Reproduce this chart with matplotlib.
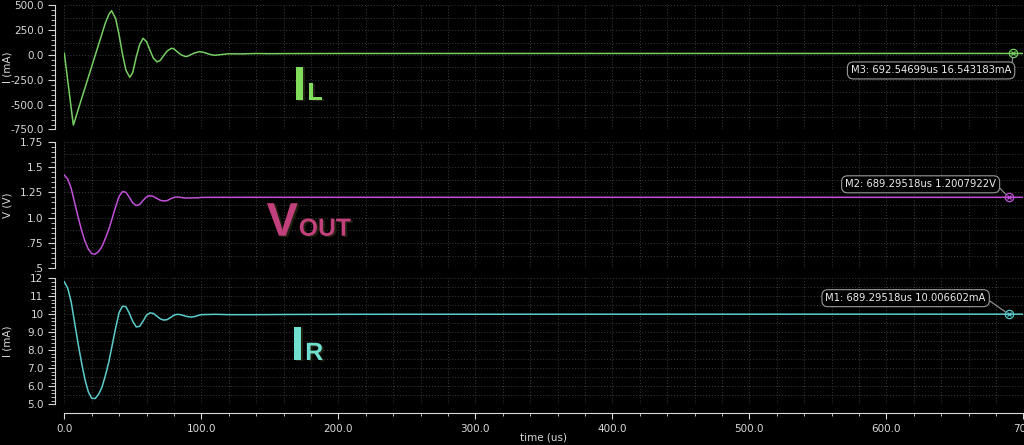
import matplotlib
matplotlib.use('Agg')
import numpy as np
import matplotlib.pyplot as plt
import matplotlib.patheffects as pe
from matplotlib.ticker import MultipleLocator

# inductor current I(L) in mA
t_il = [0, 2, 4, 6, 6.6, 7.5, 10, 12.5, 15, 17.5, 20, 22.5, 25, 27.5, 30, 32.5,
        34.5, 37.5, 40, 42.5, 45, 47.8, 50, 52.5, 55, 57.5, 60, 62.5, 65, 67.7,
        70, 72.5, 75, 78.2, 80, 82.5, 85, 88.3, 90, 92.5, 95, 98.8, 102.5, 105,
        107.5, 110, 115, 120, 130, 140, 150, 160, 200, 300, 400, 500, 600, 700]
il = [18, -200, -420, -640, -705, -668, -555, -445, -335, -225, -115, -5, 105,
      215, 325, 408, 448, 367, 203, 8, -153, -224, -174, -20, 106, 169, 136, 50,
      -31, -69, -54, -5, 40, 69, 63, 32, 5, -15, -12, 5, 21, 34, 25, 12, 3, -2,
      6, 13, 12, 16, 14, 15, 16, 16.5, 16.5, 16.5, 16.5, 16.5]

# output voltage and load current share the same time points
t_v = [0, 2.5, 5, 7.5, 10, 12.5, 15, 17.5, 20, 22.5, 25, 27.5, 30, 32.5, 35,
       37.5, 40, 42.5, 45, 47.5, 50, 52.5, 55, 57.5, 60, 62.5, 65, 67.5, 70,
       72.5, 75, 77.5, 80, 82.5, 85, 87.5, 90, 92.5, 95, 97.5, 100,
       110, 120, 140, 160, 200, 300, 400, 500, 600, 700]
vout = [1.421, 1.38, 1.29, 1.15, 1.01, 0.88, 0.77, 0.69, 0.645, 0.640, 0.665,
        0.715, 0.795, 0.885, 0.995, 1.11, 1.21, 1.258, 1.25, 1.20, 1.145, 1.12,
        1.13, 1.17, 1.205, 1.217, 1.21, 1.19, 1.172, 1.165, 1.168, 1.185, 1.20,
        1.204, 1.20, 1.195, 1.194, 1.195, 1.196, 1.196, 1.200,
        1.2005, 1.2007, 1.2008, 1.2008, 1.2008, 1.2008, 1.2008, 1.2008, 1.2008, 1.2008]
ir = [11.81, 11.45, 10.7, 9.55, 8.4, 7.35, 6.4, 5.7, 5.33, 5.32, 5.55, 5.95,
      6.6, 7.35, 8.3, 9.25, 10.1, 10.45, 10.42, 10.05, 9.6, 9.3, 9.33, 9.62,
      9.95, 10.08, 10.05, 9.9, 9.75, 9.68, 9.7, 9.82, 9.95, 10.0, 9.98, 9.92,
      9.87, 9.85, 9.87, 9.93, 9.98,
      10.0, 9.98, 9.98, 9.99, 10.0, 10.003, 10.005, 10.006, 10.0066, 10.0066]

markers = [("M3: 692.54699us 16.543183mA", 692.54699, 16.543183),
           ("M2: 689.29518us 1.2007922V", 689.29518, 1.2007922),
           ("M1: 689.29518us 10.006602mA", 689.29518, 10.006602)]

ticks_il = [500, 250, 0, -250, -500, -750]
labels_il = ["500.0", "250.0", "0.0", "-250.0", "-500.0", "-750.0"]
ticks_v = [1.75, 1.5, 1.25, 1.0, 0.75, 0.5]
labels_v = ["1.75", "1.5", "1.25", "1.0", ".75", ".5"]
ticks_ir = [12, 11, 10, 9, 8, 7, 6, 5]
labels_ir = ["12", "11", "10", "9.0", "8.0", "7.0", "6.0", "5.0"]
xticks = [0, 100, 200, 300, 400, 500, 600, 700]
xlabels = ["0.0", "100.0", "200.0", "300.0", "400.0", "500.0", "600.0", "700"]

fg = '#d8d8d8'
grid_kw = dict(color='#3c3c3c', linestyle=(0, (1, 2)), linewidth=0.7)

fig = plt.figure(figsize=(10.24, 4.45), dpi=100, facecolor='black')
left, width = 64.3 / 1024, 959 / 1024
ax1 = fig.add_axes([left, 0.7090, width, 0.2787])
ax2 = fig.add_axes([left, 0.3971, width, 0.2845])
ax3 = fig.add_axes([left, 0.0915, width, 0.2831])


def style(ax, ticks, labels, step, ylabel, bottom=False):
    ax.set_facecolor('black')
    ax.set_xlim(0, 700)
    ax.set_ylim(min(ticks), max(ticks))
    for s in ['top', 'right']:
        ax.spines[s].set_visible(False)
    ax.spines['left'].set_position(('outward', 7))
    ax.spines['left'].set_color(fg)
    ax.set_yticks(ticks)
    ax.set_yticklabels(labels)
    ax.yaxis.set_minor_locator(MultipleLocator(step / 5))
    ax.xaxis.set_major_locator(MultipleLocator(100))
    ax.xaxis.set_minor_locator(MultipleLocator(20))
    ax.grid(which='both', axis='x', **grid_kw)
    for y in np.arange(min(ticks), max(ticks) + step / 4, step / 2):
        ax.axhline(y, zorder=0, **grid_kw)
    ax.tick_params(axis='y', which='major', colors=fg, labelsize=7.5, length=5, width=0.8, pad=3)
    ax.tick_params(axis='y', which='minor', colors=fg, length=3, width=0.6)
    ax.set_ylabel(ylabel, color=fg, fontsize=7.5)
    ax.yaxis.set_label_coords(-0.0535, 0.5)
    if bottom:
        ax.spines['bottom'].set_position(('outward', 6))
        ax.spines['bottom'].set_color(fg)
        ax.set_xticks(xticks)
        ax.set_xticklabels(xlabels)
        ax.tick_params(axis='x', which='major', colors=fg, labelsize=7.5, length=4, width=0.8, pad=4)
        ax.tick_params(axis='x', which='minor', colors=fg, length=2.5, width=0.6)
        ax.set_xlabel("time (us)", color=fg, fontsize=7.5, labelpad=-1)
    else:
        ax.spines['bottom'].set_visible(False)
        ax.tick_params(axis='x', which='both', bottom=False, labelbottom=False)


style(ax1, ticks_il, labels_il, 250, "I (mA)")
style(ax2, ticks_v, labels_v, 0.25, "V (V)")
style(ax3, ticks_ir, labels_ir, 1, "I (mA)", bottom=True)

c_il, c_v, c_ir = '#76cf62', '#c250d8', '#5ccccc'
ax1.plot(t_il, il, color=c_il, lw=1.1)
ax2.plot(t_v, vout, color=c_v, lw=1.1)
ax3.plot(t_v, ir, color=c_ir, lw=1.1)

# marker annotations
offsets = [(-82, -17), (-88, 13), (-103, 16)]
for ax, (txt, mx, my), off, c in zip([ax1, ax2, ax3], markers, offsets, [c_il, c_v, c_ir]):
    ax.plot(mx, my, marker='o', mfc='none', mec=c, ms=6, mew=0.9)
    ax.plot(mx, my, marker='x', color=c, ms=3.5, mew=0.9)
    ax.annotate(txt, xy=(mx, my), xytext=off, textcoords='offset pixels',
                ha='center', va='center', color='#ececec', fontsize=7.2,
                bbox=dict(boxstyle='round,pad=0.35,rounding_size=0.6', fc='black', ec='#9a9a9a', lw=0.8),
                arrowprops=dict(arrowstyle='-', color='#9a9a9a', lw=0.8,
                                relpos=(1, 0.5), shrinkA=0, shrinkB=3))

# big signal names
shadow = [pe.withSimplePatchShadow(offset=(1.5, -1), shadow_rgbFace='#202010', alpha=1)]
def name(ax, x, y, big, small, xs, size_b, size_s, color):
    kw = dict(transform=ax.transAxes, family='Liberation Sans', fontweight='bold',
              color=color, va='baseline', ha='left', path_effects=shadow)
    ax.text(x, y, big, fontsize=size_b, **kw)
    ax.text(xs, y, small, fontsize=size_s, **kw)

name(ax1, 0.2384, 0.238, "I", "L", 0.2535, 35, 18, '#82dc5c')
name(ax2, 0.2109, 0.2575, "V", "OUT", 0.2445, 34, 17.8, '#c2407c')
name(ax3, 0.2364, 0.3516, "I", "R", 0.2512, 35, 18, '#6fe0d0')

fig.savefig('out.png', dpi=100, facecolor='black')
